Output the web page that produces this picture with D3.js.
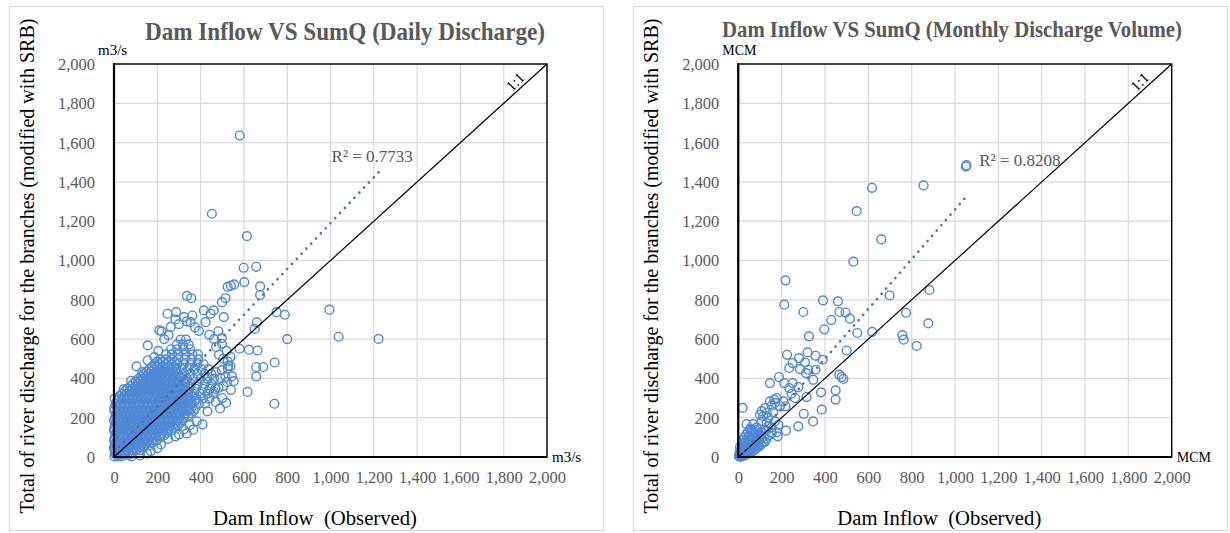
<!DOCTYPE html>
<html><head><meta charset="utf-8">
<script src="https://cdn.jsdelivr.net/npm/d3@7"></script>
<style>
body{margin:0;background:#fff}
text{font-family:"Liberation Serif","Times New Roman",serif}
</style>
</head><body>
<svg id="c" width="1230" height="533"></svg>
<script>
// ---------------- DATA ----------------
const ticks = [0,200,400,600,800,1000,1200,1400,1600,1800,2000];

// Daily chart: dense cluster, rows of [y, x-values]
const dailyDenseRows = [
 [3,[2,18,35]],
 [22,[5,24,45,66,84]],
 [48,[0,14,33,55,76,97,118,136]],
 [72,[8,27,48,69,90,111,132,153,176]],
 [98,[3,20,41,62,83,104,125,146,167,188,210]],
 [123,[11,31,52,73,94,115,136,157,178,199,221,244]],
 [148,[2,22,43,64,85,106,127,148,169,190,211,232,254,276]],
 [173,[9,30,51,72,93,114,135,156,177,198,219,240,262,284,305]],
 [197,[4,24,45,66,87,108,129,150,171,192,213,234,256,278,300,321]],
 [222,[12,33,54,75,96,117,138,159,180,201,222,243,265,287,309,331,355]],
 [248,[1,20,41,62,83,104,125,146,167,188,209,230,252,274,296,318,345,375]],
 [272,[8,29,50,71,92,113,134,155,176,197,218,239,261,283,305,330,360,392,420]],
 [297,[3,22,44,65,86,107,128,149,170,191,212,233,255,277,299,322,350,380,412,440]],
 [322,[38,58,79,100,121,142,163,184,205,226,248,270,292,316,342,370,400,432,458]],
 [347,[62,83,104,125,146,167,188,209,230,252,274,296,320,348,378,410,442,468]],
 [372,[88,108,129,150,171,192,213,234,256,278,302,328,356,386,418,450]],
 [398,[112,133,154,175,196,217,238,260,284,310,338,368,400,432,462]],
 [423,[138,159,180,201,222,245,270,296,324,354,385,418,450]],
 [447,[163,185,208,232,258,285,313,342,372,404,436]],
 [472,[188,212,238,265,293,322,352,384,414]],
 [497,[214,240,268,297,327,358,390]],
 [522,[240,268,298,330,362,388]],
 [548,[264,292,322,352]],
 [572,[290,318,345]],
 [598,[308,332]]
];
// Daily chart: in-between rows of the densest part of the cluster
const dailyCoreRows = [
 [12,[10,28,50,72]],
 [35,[2,20,40,60,82,102,124]],
 [60,[4,22,38,60,80,102,124,144,164]],
 [85,[0,16,36,56,78,98,120,140,160,180,198]],
 [110,[6,26,46,68,88,110,130,150,172,192,214,232]],
 [135,[0,18,40,60,80,100,122,142,162,184,206,226,248,266]],
 [160,[6,26,46,68,88,108,130,150,172,194,214,236,258,280,296]],
 [185,[0,18,38,58,80,100,120,142,162,184,206,228,250,270,292,312]],
 [210,[8,28,48,70,90,110,132,152,174,196,218,240,262,284,304,326,342]],
 [235,[2,22,42,64,84,106,126,148,170,192,214,236,258,280,302,324,348,368]],
 [260,[10,30,52,74,96,116,138,160,182,204,226,248,270,292,316,338,362]],
 [285,[14,34,56,78,100,122,144,166,188,210,232,254,276,298,322,346,372]],
 [310,[24,48,70,92,114,136,158,180,202,224,246,268,290,314,338,362]],
 [335,[50,72,94,116,138,160,182,204,226,248,270,292,316,340]],
 [360,[76,98,120,142,164,186,208,230,252,274,296,320,344]],
 [385,[100,122,144,166,188,210,232,254,276,300,324]],
 [410,[126,148,170,192,214,236,258,282,306]],
 [435,[150,172,194,216,240,264,290]],
 [460,[176,200,224,250,276]],
 [485,[200,226,252,280]]
];

// Daily chart: scattered points [x, y]
const dailySparse = [
 [45,345],[79,388],[104,461],[130,432],[156,492],[156,568],[186,508],[205,540],[209,644],[220,639],
 [232,600],[247,729],[252,620],[262,662],[287,737],[284,700],[300,676],[324,712],[336,690],[354,686],
 [362,720],[374,660],[392,642],[415,746],[423,686],[446,729],[461,746],[440,622],[462,600],[482,640],
 [499,788],[515,808],[507,712],[498,605],[499,576],[525,866],[540,872],[555,878],[525,486],[525,452],
 [520,540],[472,560],[485,520],[505,500],[337,820],[357,808],[599,963],[657,968],[602,890],[675,868],
 [675,825],[581,1636],[452,1238],[614,1124],[660,685],[650,652],[751,737],[789,724],[800,600],[995,750],
 [1038,612],[1222,601],
 [217,64],[153,17],[301,115],[336,120],[366,139],[409,166],[490,247],[518,275],[545,410],[553,386],
 [617,331],[741,271],[742,481],[657,410],[657,458],[689,458],[580,551],[623,546],[663,542],[500,300],
 [470,280],[432,232],[382,182],[350,162],[322,140],[283,105],[250,92],[200,45],[170,30],[120,8],
 [80,3],[462,332],[482,352],[505,362],[522,382],[540,342],[515,408],[492,402],[470,432],[498,442],
 [538,462],[538,510],[528,464]
];

// Monthly chart points [x, y]
const monthlyPoints = [
 [1050,1478],[1053,1485],[855,1382],[617,1370],[546,1251],[660,1107],[531,994],[218,899],[212,775],[300,738],
 [391,797],[460,792],[466,738],[495,735],[515,704],[429,697],[397,650],[326,614],[549,631],[618,637],
 [698,822],[882,850],[774,734],[877,680],[757,620],[763,597],[823,565],[500,542],
 [225,520],[320,532],[280,503],[357,515],[251,478],[308,481],[389,495],[235,453],[285,447],[323,444],
 [357,444],[312,427],[346,393],[466,419],[477,407],[485,397],[146,376],[188,407],[212,376],[251,376],
 [235,351],[277,356],[246,322],[262,300],[177,300],[208,283],[166,292],[154,261],[192,258],[218,258],
 [315,305],[382,329],[449,339],[449,292],[385,241],[302,220],[345,181],[277,156],[220,134],[182,105],[154,122],
 [20,250],[108,233],[131,225],[115,208],[138,200],[154,151],[177,126],[151,126],[128,134],[123,77],
 [100,102],[69,134],[54,143],[38,167],[69,167],[85,151],[23,85],[46,69],[8,52],[31,44],[54,44],[69,61],[92,61],
 [123,249],[100,215],[161,227],[169,275],[146,283],[131,173],[108,181],[138,156],[120,134],[77,139],
 [62,131],[85,105],[169,181],[185,164],
 [3,4],[8,10],[14,6],[20,15],[12,22],[26,24],[32,18],[36,32],[24,38],[42,28],[46,42],[52,50],[38,52],
 [58,38],[62,56],[48,64],[66,72],[58,82],[72,62],[78,80],[82,92],[64,98],[88,102],[92,84],[96,112],
 [74,116],[104,124],[106,96],[4,18],[9,30],[16,42],[22,56],[17,70],[30,74],[42,88],[28,100],[36,114],
 [50,106],[44,128],[60,138],[6,2],[15,2],[26,8],[36,12],[46,18],[56,24],[66,28],[76,38],[86,46],
 [96,54],[104,62],[114,76],[130,92],[142,110],[118,104],
 [10,5],[18,10],[28,14],[40,22],[50,30],[60,40],[70,50],[80,60],[88,70],[34,48],[20,30],[12,14],[40,60],[55,70],[30,58]
];

// Trend lines
const dailyTrend = {slope:1.165, intercept:25, r2:"R² = 0.7733"};
const monthlyTrend = {slope:1.265, intercept:-6, r2:"R² = 0.8208"};

const rowsToPoints = rows => rows.flatMap(([yv, xs]) => xs.map(xv => [xv, yv]));
const dailyPoints = rowsToPoints(dailyDenseRows).concat(rowsToPoints(dailyCoreRows), dailySparse);

// ---------------- DRAW ----------------
const svg = d3.select("#c");
const fmt = d3.format(",");
const blue = "#4f88d6";

function drawChart(cfg){
  const g = svg.append("g");
  g.append("rect").attr("x", cfg.frameX + .5).attr("y", 6.5)
    .attr("width", 594).attr("height", 524)
    .attr("fill", "#fff").attr("stroke", "#d9d9d9");

  const x = d3.scaleLinear().domain([0,2000]).range([cfg.left, cfg.right]);
  const y = d3.scaleLinear().domain([0,2000]).range([457, 64]);

  // grid
  g.append("g").selectAll("line").data(ticks).join("line")
    .attr("x1", d => x(d)).attr("x2", d => x(d))
    .attr("y1", y(0)).attr("y2", y(2000))
    .attr("stroke", "#d9d9d9").attr("stroke-width", 1.2);
  g.append("g").selectAll("line").data(ticks).join("line")
    .attr("y1", d => y(d)).attr("y2", d => y(d))
    .attr("x1", x(0)).attr("x2", x(2000))
    .attr("stroke", "#d9d9d9").attr("stroke-width", 1.2);

  // points
  g.append("g").selectAll("circle").data(cfg.data).join("circle")
    .attr("cx", d => x(d[0])).attr("cy", d => y(d[1])).attr("r", 4.4)
    .attr("fill", "none").attr("stroke", blue).attr("stroke-width", 1.4);

  // 1:1 line
  g.append("line").attr("x1", x(0)).attr("y1", y(0)).attr("x2", x(2000)).attr("y2", y(2000))
    .attr("stroke", "#000").attr("stroke-width", 1.2);

  // trend
  const ext = d3.extent(cfg.data, d => d[0]);
  const tr = cfg.trend;
  const line = d3.line().x(d => x(d)).y(d => y(tr.slope * d + tr.intercept));
  g.append("path").attr("d", line(ext))
    .attr("fill", "none").attr("stroke", "#4472c4").attr("stroke-width", 2.7)
    .attr("stroke-dasharray", "0,7").attr("stroke-linecap", "round");

  // plot border + axes
  g.append("rect").attr("x", x(0)).attr("y", y(2000))
    .attr("width", x(2000) - x(0)).attr("height", y(0) - y(2000))
    .attr("fill", "none").attr("stroke", "#000").attr("stroke-width", 1.4);
  g.append("line").attr("x1", x(0)).attr("x2", x(0)).attr("y1", y(2000) - 0.7).attr("y2", y(0) + 1)
    .attr("stroke", "#000").attr("stroke-width", 2.2);
  g.append("line").attr("x1", x(0)).attr("x2", x(2000)).attr("y1", y(0)).attr("y2", y(0))
    .attr("stroke", "#000").attr("stroke-width", 2);

  // tick labels via axes
  const ax = g.append("g").attr("transform", `translate(0,${y(0)})`)
    .call(d3.axisBottom(x).tickValues(ticks).tickFormat(fmt).tickSize(0).tickPadding(0));
  ax.select(".domain").remove();
  ax.selectAll("text").attr("y", 26).attr("dy", 0)
    .attr("font-family", "Liberation Serif").attr("font-size", 16.5).attr("fill", "#595959");

  const ay = g.append("g").attr("transform", `translate(${x(0)},0)`)
    .call(d3.axisLeft(y).tickValues(ticks).tickFormat(fmt).tickSize(0).tickPadding(19));
  ay.select(".domain").remove();
  ay.selectAll("text").attr("dy", "0.33em")
    .attr("font-family", "Liberation Serif").attr("font-size", 16.5).attr("fill", "#595959");

  // titles
  g.append("text").attr("x", cfg.titleX).attr("y", cfg.titleY).attr("text-anchor", "middle")
    .attr("font-weight", "bold").attr("font-size", cfg.titleSize).attr("fill", "#595959")
    .attr("textLength", cfg.titleLen).attr("lengthAdjust", "spacingAndGlyphs")
    .text(cfg.title);

  g.append("text").attr("transform", `translate(${cfg.left - 80},266) rotate(-90)`)
    .attr("text-anchor", "middle").attr("font-size", 20).attr("fill", "#000")
    .attr("textLength", 495).attr("lengthAdjust", "spacingAndGlyphs")
    .text("Total of river discharge for the branches (modified with SRB)");

  g.append("text").attr("x", cfg.left + 201).attr("y", 525).attr("text-anchor", "middle")
    .attr("font-size", 20).attr("fill", "#000").attr("xml:space", "preserve")
    .attr("textLength", 204).attr("lengthAdjust", "spacingAndGlyphs")
    .text("Dam Inflow  (Observed)");

  // units
  g.append("text").attr("x", cfg.left - 16).attr("y", 55).attr("font-size", cfg.unitSize).attr("fill", "#000").text(cfg.unit);
  g.append("text").attr("x", cfg.right + 5).attr("y", 462).attr("font-size", cfg.unitSize).attr("fill", "#000").text(cfg.unit);

  // 1:1 label
  g.append("text").attr("transform", `translate(${x(1852)},${y(1910)}) rotate(-45)`)
    .attr("text-anchor", "middle").attr("dy", "0.35em").attr("font-size", 15).attr("fill", "#000").text("1:1");

  // R² label
  g.append("text").attr("x", x(cfg.r2pos[0])).attr("y", y(cfg.r2pos[1]))
    .attr("font-size", 17).attr("fill", "#595959").text(tr.r2);
}

drawChart({
  frameX: 9, left: 114, right: 547,
  title: "Dam Inflow VS SumQ (Daily Discharge)", titleX: 345, titleY: 40, titleSize: 25, titleLen: 400,
  unit: "m3/s", unitSize: 15, data: dailyPoints, trend: dailyTrend, r2pos: [1005, 1501]
});
drawChart({
  frameX: 633, left: 738.3, right: 1171.7,
  title: "Dam Inflow VS SumQ (Monthly Discharge Volume)", titleX: 952, titleY: 37, titleSize: 23, titleLen: 460,
  unit: "MCM", unitSize: 14, data: monthlyPoints, trend: monthlyTrend, r2pos: [1112, 1481]
});
</script>
</body></html>
